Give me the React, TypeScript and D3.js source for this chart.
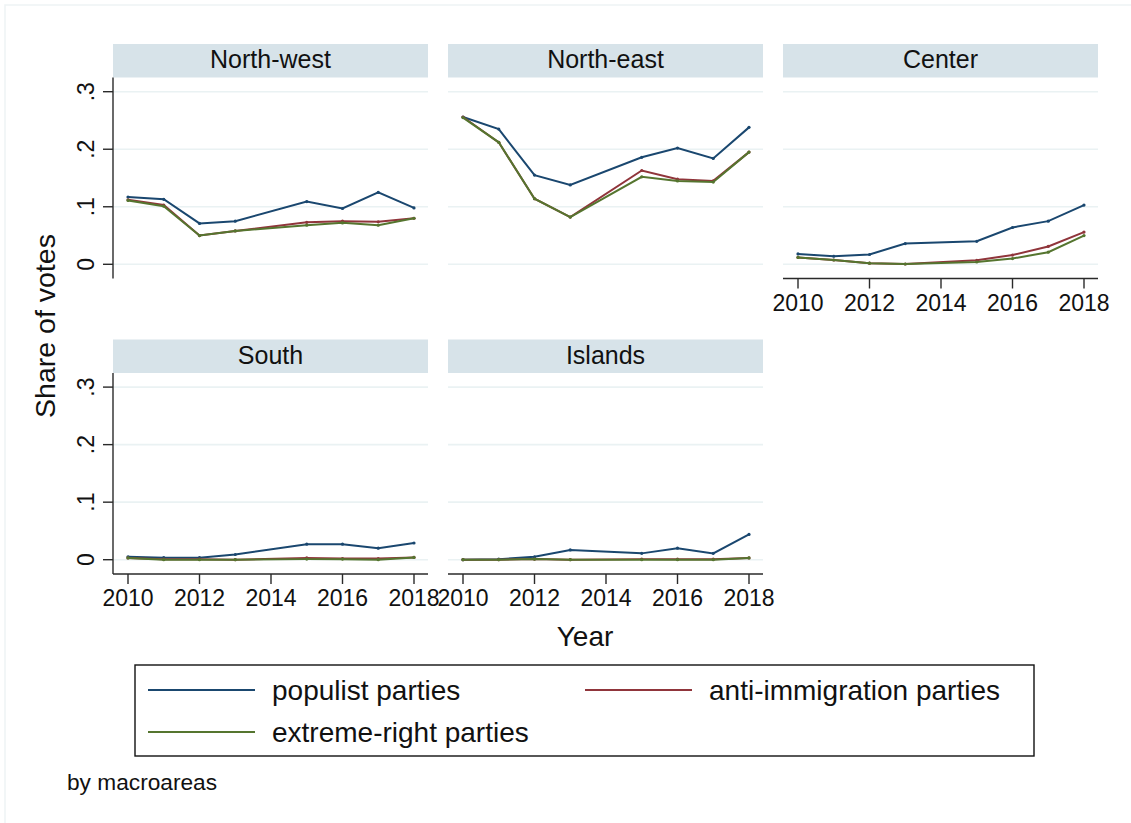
import React from "react";
import * as d3 from "d3";

// Survey years (2014 has no observation)
const years = [2010, 2011, 2012, 2013, 2015, 2016, 2017, 2018];

const regions = ["North-west", "North-east", "Center", "South", "Islands"];

const seriesNames = ["populist parties", "anti-immigration parties", "extreme-right parties"];
const seriesColors = ["#1a476f", "#90353b", "#55752f"];

// Vote shares by macroarea, one array per series
const northWestPopulist = [0.117, 0.113, 0.071, 0.075, 0.109, 0.097, 0.125, 0.098];
const northWestAntiImm = [0.112, 0.103, 0.050, 0.058, 0.073, 0.075, 0.074, 0.080];
const northWestExtRight = [0.111, 0.101, 0.050, 0.058, 0.068, 0.072, 0.068, 0.080];

const northEastPopulist = [0.256, 0.235, 0.155, 0.138, 0.186, 0.202, 0.184, 0.238];
const northEastAntiImm = [0.256, 0.212, 0.114, 0.082, 0.163, 0.148, 0.145, 0.195];
const northEastExtRight = [0.255, 0.212, 0.114, 0.082, 0.152, 0.145, 0.143, 0.195];

const centerPopulist = [0.018, 0.014, 0.017, 0.036, 0.040, 0.064, 0.075, 0.103];
const centerAntiImm = [0.012, 0.0075, 0.002, 0.0005, 0.007, 0.016, 0.031, 0.056];
const centerExtRight = [0.012, 0.0075, 0.002, 0.0005, 0.004, 0.010, 0.021, 0.050];

const southPopulist = [0.005, 0.0035, 0.0035, 0.009, 0.027, 0.027, 0.020, 0.029];
const southAntiImm = [0.003, 0.001, 0.001, 0.0, 0.003, 0.002, 0.002, 0.004];
const southExtRight = [0.003, 0.0, 0.0, 0.0, 0.001, 0.001, 0.0, 0.004];

const islandsPopulist = [0.0, 0.001, 0.005, 0.017, 0.011, 0.020, 0.011, 0.044];
const islandsAntiImm = [0.0, 0.0, 0.001, 0.0, 0.001, 0.001, 0.001, 0.003];
const islandsExtRight = [0.0, 0.0, 0.001, 0.0, 0.0, 0.0, 0.0, 0.003];

const regionSeries = [
  [northWestPopulist, northWestAntiImm, northWestExtRight],
  [northEastPopulist, northEastAntiImm, northEastExtRight],
  [centerPopulist, centerAntiImm, centerExtRight],
  [southPopulist, southAntiImm, southExtRight],
  [islandsPopulist, islandsAntiImm, islandsExtRight],
];

const yTicks = [0, 0.1, 0.2, 0.3];
const yTickLabels = ["0", ".1", ".2", ".3"];
const xTicks = [2010, 2012, 2014, 2016, 2018];

const FONT = "'Liberation Sans', Arial, Helvetica, sans-serif";
const W = 1131;
const H = 823;

// Facet geometry
const colLeft = [113, 448, 783];
const panelW = 315;
const rowHeaderTop = [44, 339.5];
const headerH = 33.5;
const rowPlotBottom = [278.5, 574];
const rowZero = [264.3, 559.7];
const rowTop3 = [91.7, 387.1];

const axisColor = "#2a2a2a";
const gridColor = "#eaf2f3";
const stripColor = "#d7e3e9";
const textColor = "#111";

function Panel({ idx }: { idx: number }) {
  const col = idx % 3;
  const row = Math.floor(idx / 3);
  const x0 = colLeft[col];
  const headerTop = rowHeaderTop[row];
  const plotTop = headerTop + headerH;
  const plotBottom = rowPlotBottom[row];

  const x = d3.scaleLinear().domain([2010, 2018]).range([x0 + 15, x0 + panelW - 14]);
  const y = d3.scaleLinear().domain([0, 0.3]).range([rowZero[row], rowTop3[row]]);

  const showY = col === 0;
  const showX = row === 1 || idx === 2;

  const line = d3
    .line<number>()
    .x((_, i) => x(years[i]))
    .y((v) => y(v));

  const series = regionSeries[idx];

  return (
    <g>
      <rect x={x0} y={headerTop} width={panelW} height={headerH} fill={stripColor} />
      <text
        x={x0 + panelW / 2}
        y={headerTop + 24}
        textAnchor="middle"
        fontFamily={FONT}
        fontSize={25}
        fill={textColor}
      >
        {regions[idx]}
      </text>
      {yTicks.map((t) => (
        <line
          key={t}
          x1={x0}
          x2={x0 + panelW}
          y1={y(t)}
          y2={y(t)}
          stroke={gridColor}
          strokeWidth={1.6}
        />
      ))}
      {showY && (
        <g>
          <line x1={x0} x2={x0} y1={plotTop} y2={plotBottom} stroke={axisColor} strokeWidth={1.4} />
          {yTicks.map((t, i) => (
            <g key={t}>
              <line x1={x0 - 10} x2={x0} y1={y(t)} y2={y(t)} stroke={axisColor} strokeWidth={1.4} />
              <text
                transform={`translate(${x0 - 19},${y(t)}) rotate(-90)`}
                textAnchor="middle"
                fontFamily={FONT}
                fontSize={23}
                fill={textColor}
              >
                {yTickLabels[i]}
              </text>
            </g>
          ))}
        </g>
      )}
      {showX && (
        <g>
          <line
            x1={x0}
            x2={x0 + panelW}
            y1={plotBottom}
            y2={plotBottom}
            stroke={axisColor}
            strokeWidth={1.4}
          />
          {xTicks.map((t) => (
            <g key={t}>
              <line
                x1={x(t)}
                x2={x(t)}
                y1={plotBottom}
                y2={plotBottom + 10}
                stroke={axisColor}
                strokeWidth={1.4}
              />
              <text
                x={x(t)}
                y={plotBottom + 32}
                textAnchor="middle"
                fontFamily={FONT}
                fontSize={23}
                fill={textColor}
              >
                {t}
              </text>
            </g>
          ))}
        </g>
      )}
      {series.map((vals, si) => (
        <g key={si}>
          <path d={line(vals) || ""} fill="none" stroke={seriesColors[si]} strokeWidth={2} />
          {vals.map((v, i) => (
            <circle key={i} cx={x(years[i])} cy={y(v)} r={1.6} fill={seriesColors[si]} />
          ))}
        </g>
      ))}
    </g>
  );
}

export default function App() {
  return (
    <div style={{ position: "absolute", left: 0, top: 0 }}>
      <svg width={W} height={H} style={{ display: "block", background: "#fff" }}>
        <rect x={0} y={0} width={W} height={H} fill="#fff" />
        <rect x={5} y={5} width={W + 20} height={H + 20} fill="none" stroke="#eef3f5" strokeWidth={1.5} />
        {regions.map((_, i) => (
          <Panel key={i} idx={i} />
        ))}
        <text
          transform={`translate(55,326) rotate(-90)`}
          textAnchor="middle"
          fontFamily={FONT}
          fontSize={28.5}
          fill={textColor}
        >
          Share of votes
        </text>
        <text x={585} y={646} textAnchor="middle" fontFamily={FONT} fontSize={28} fill={textColor}>
          Year
        </text>
        {/* Legend */}
        <rect x={135} y={665} width={899} height={91} fill="#fff" stroke="#111" strokeWidth={1.4} />
        {seriesNames.map((name, i) => {
          const lx = i === 1 ? 585 : 148;
          const ly = i === 2 ? 732 : 690;
          return (
            <g key={name}>
              <line x1={lx} x2={lx + 107} y1={ly} y2={ly} stroke={seriesColors[i]} strokeWidth={2} />
              <text x={lx + 124} y={ly + 10} fontFamily={FONT} fontSize={28} fill={textColor}>
                {name}
              </text>
            </g>
          );
        })}
        <text x={67} y={790} fontFamily={FONT} fontSize={22.7} fill={textColor}>
          by macroareas
        </text>
      </svg>
    </div>
  );
}
